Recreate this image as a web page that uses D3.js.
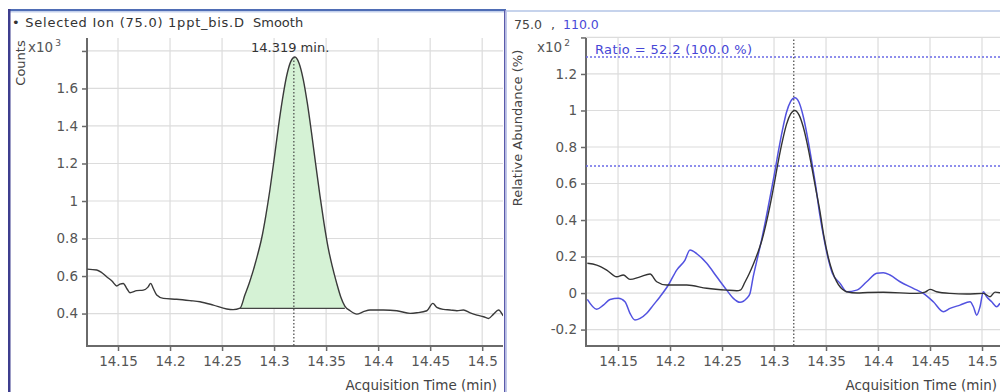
<!DOCTYPE html>
<html><head><meta charset="utf-8">
<script src="https://cdn.jsdelivr.net/npm/d3@7"></script>
<style>body{margin:0;background:#fff;} svg{display:block;} text{font-family:"DejaVu Sans",sans-serif;}</style>
</head><body><svg id="c" width="1000" height="392"></svg>
<script>
const xTicks = [14.15,14.2,14.25,14.3,14.35,14.4,14.45,14.5];
const xTickLabels = ["14.15","14.2","14.25","14.3","14.35","14.4","14.45","14.5"];
const leftYTicks = [0.4,0.6,0.8,1,1.2,1.4,1.6,1.8];
const leftYTickLabels = ["0.4","0.6","0.8","1","1.2","1.4","1.6",""];
const rightYTicks = [-0.2,0,0.2,0.4,0.6,0.8,1,1.2,1.4];
const rightYTickLabels = ["-0.2","0","0.2","0.4","0.6","0.8","1","1.2",""];

const leftTime = [14.1205,14.1295,14.1337,14.1391,14.1442,14.1488,14.1519,14.1551,14.1587,14.1615,14.1680,14.1743,14.1788,14.1814,14.1837,14.1872,14.1936,14.2064,14.2192,14.2288,14.2416,14.2545,14.2606,14.2673,14.272,14.276,14.280,14.284,14.288,14.292,14.296,14.300,14.304,14.308,14.312,14.316,14.320,14.324,14.328,14.332,14.336,14.340,14.344,14.348,14.352,14.356,14.360,14.364,14.368,14.3731,14.3795,14.3859,14.3923,14.4051,14.4180,14.4308,14.4372,14.4468,14.4526,14.4564,14.4628,14.4692,14.4757,14.4820,14.4885,14.4949,14.5013,14.5061,14.5109,14.5157,14.5202];
const leftCounts = [0.637,0.632,0.621,0.596,0.573,0.547,0.557,0.560,0.531,0.511,0.522,0.525,0.541,0.561,0.536,0.499,0.481,0.476,0.469,0.463,0.445,0.424,0.421,0.429,0.50,0.56,0.63,0.71,0.80,0.92,1.06,1.22,1.389,1.540,1.665,1.743,1.768,1.735,1.649,1.520,1.363,1.195,1.031,0.881,0.75,0.65,0.565,0.49,0.44,0.415,0.397,0.410,0.419,0.419,0.415,0.401,0.404,0.415,0.454,0.433,0.422,0.419,0.415,0.419,0.404,0.392,0.383,0.374,0.397,0.419,0.387];

const blackTime = [14.1205,14.1295,14.1391,14.1488,14.1551,14.1615,14.1712,14.1808,14.1872,14.1968,14.2161,14.2353,14.2545,14.2641,14.268,14.272,14.276,14.280,14.284,14.288,14.292,14.296,14.300,14.304,14.308,14.312,14.316,14.320,14.324,14.328,14.332,14.336,14.340,14.344,14.348,14.352,14.356,14.360,14.364,14.368,14.3699,14.380,14.390,14.4051,14.4372,14.4452,14.4500,14.4564,14.4692,14.4853,14.5013,14.5077,14.5125,14.5173];
const blackAbund = [0.163,0.153,0.126,0.089,0.099,0.075,0.089,0.104,0.062,0.044,0.044,0.026,0.016,0.013,0.018,0.059,0.104,0.156,0.215,0.282,0.371,0.475,0.593,0.719,0.831,0.924,0.981,1.000,0.976,0.912,0.816,0.700,0.575,0.453,0.31,0.20,0.12,0.065,0.03,0.012,0.007,0.0,0.003,0.004,-0.002,0.005,0.020,0.007,-0.002,-0.005,-0.002,-0.020,0.005,0.002];

const blueTime = [14.1205,14.1295,14.1359,14.1423,14.1503,14.1567,14.1615,14.1663,14.1712,14.1776,14.1839,14.1904,14.1984,14.2064,14.2144,14.2192,14.2260,14.2353,14.2449,14.2545,14.2609,14.2673,14.2738,14.2769,14.280,14.284,14.288,14.292,14.296,14.300,14.304,14.308,14.312,14.316,14.320,14.324,14.328,14.332,14.336,14.340,14.344,14.348,14.352,14.356,14.3635,14.3699,14.3795,14.3891,14.3988,14.4051,14.4115,14.4212,14.4339,14.4436,14.4532,14.4628,14.4692,14.4788,14.4885,14.4917,14.4949,14.4981,14.5013,14.5045,14.5093,14.5141,14.5173];
const blueAbund = [-0.035,-0.089,-0.066,-0.035,-0.029,-0.048,-0.111,-0.148,-0.139,-0.111,-0.066,-0.020,0.044,0.126,0.181,0.236,0.214,0.163,0.089,0.016,-0.029,-0.051,-0.029,-0.002,0.09,0.19,0.29,0.40,0.52,0.64,0.77,0.89,0.99,1.05,1.07,1.045,0.97,0.86,0.73,0.59,0.43,0.30,0.19,0.11,0.053,0.007,0.016,0.062,0.108,0.111,0.099,0.062,0.026,-0.002,-0.048,-0.102,-0.084,-0.066,-0.048,-0.075,-0.121,-0.075,0.007,-0.020,-0.048,-0.075,-0.056];

const peakRT = 14.319;
const peakStart = 14.2673, peakEnd = 14.368, peakBase = 0.428;
const ratioLow = 0.696, ratioHigh = 1.293;

const svg = d3.select("#c");
const FS = 13.5;

// frames
svg.append("rect").attr("x",8).attr("y",9).attr("width",498).attr("height",2).attr("fill","#4f6db5");
svg.append("rect").attr("x",8).attr("y",11).attr("width",498).attr("height",1.5).attr("fill","#c3d0ec");
svg.append("rect").attr("x",506).attr("y",10).attr("width",494).attr("height",2).attr("fill","#c6d3ec");
svg.append("rect").attr("x",8).attr("y",9).attr("width",2.5).attr("height",383).attr("fill","#3d3d8e");
svg.append("rect").attr("x",504).attr("y",10).attr("width",1.5).attr("height",382).attr("fill","#5a5aaa");
svg.append("rect").attr("x",505.5).attr("y",10).attr("width",1.5).attr("height",382).attr("fill","#c0c8ea");

function panel(opts){
  const x = d3.scaleLinear().domain(opts.xd).range([opts.x0, opts.x1]);
  const y = d3.scaleLinear().domain(opts.yd).range([346, 38]);
  const g = svg.append("g");
  const cid = "clip"+opts.id;
  svg.append("clipPath").attr("id",cid).append("rect").attr("x",opts.x0).attr("y",38).attr("width",opts.x1-opts.x0).attr("height",308);
  g.selectAll(".vg").data(xTicks).join("line").attr("x1",d=>x(d)).attr("x2",d=>x(d)).attr("y1",38).attr("y2",346).attr("stroke","#dcdcdc").attr("stroke-width",1.2);
  g.selectAll(".hg").data(opts.yt).join("line").attr("y1",d=>y(d)).attr("y2",d=>y(d)).attr("x1",opts.x0).attr("x2",opts.x1).attr("stroke","#dcdcdc").attr("stroke-width",1.2);
  const xa = d3.axisBottom(x).tickValues(xTicks).tickFormat((d,i)=>xTickLabels[i]).tickSize(5).tickPadding(5);
  const ya = d3.axisLeft(y).tickValues(opts.yt).tickFormat((d,i)=>opts.ytl[i]).tickSize(5).tickPadding(4);
  const gx = g.append("g").attr("transform","translate(0,346)").call(xa);
  const gy = g.append("g").attr("transform",`translate(${opts.x0},0)`).call(ya);
  [gx,gy].forEach(a=>{
    a.select(".domain").remove();
    a.selectAll("line").attr("stroke","#6a6a6a").attr("stroke-width",1.5);
    a.selectAll("text").attr("fill","#555").style("font-size",FS+"px").style("font-family","DejaVu Sans");
  });
  g.append("line").attr("x1",opts.x0).attr("x2",opts.x0).attr("y1",38).attr("y2",347).attr("stroke","#6a6a6a").attr("stroke-width",2);
  g.append("line").attr("x1",opts.x0-1).attr("x2",opts.x1).attr("y1",346).attr("y2",346).attr("stroke","#6a6a6a").attr("stroke-width",2);
  const t = g.append("text").attr("x",opts.mx).attr("y",52).attr("fill","#555").style("font-size",FS+"px");
  t.append("tspan").text("x10");
  t.append("tspan").attr("dy",-6).attr("dx",2).style("font-size","9px").text(opts.exp);
  return {x,y,g,clip:`url(#${cid})`};
}

// Left panel
const L = panel({id:"L", xd:[14.1202,14.52], x0:87, x1:503, yd:[0.227,1.869], yt:leftYTicks, ytl:leftYTickLabels, exp:"3", mx:28});
const leftData = leftTime.map((t,i)=>({t, v:leftCounts[i]}));
const fillData = leftData.filter(d=>d.t>=peakStart && d.t<=peakEnd);
const gl = L.g.append("g").attr("clip-path",L.clip);
gl.append("path").datum(fillData)
  .attr("d", d3.area().x(d=>L.x(d.t)).y0(L.y(peakBase)).y1(d=>L.y(d.v)).curve(d3.curveMonotoneX))
  .attr("fill","#d5f2d5").attr("stroke","none");
gl.append("line").attr("x1",L.x(peakStart)).attr("x2",L.x(peakEnd)).attr("y1",L.y(peakBase)).attr("y2",L.y(peakBase)).attr("stroke","#444").attr("stroke-width",1.3);
gl.append("path").datum(leftData)
  .attr("d", d3.line().x(d=>L.x(d.t)).y(d=>L.y(d.v)).curve(d3.curveMonotoneX))
  .attr("fill","none").attr("stroke","#3a3a3a").attr("stroke-width",1.4);
gl.append("line").attr("x1",L.x(peakRT)).attr("x2",L.x(peakRT)).attr("y1",L.y(1.768)).attr("y2",346).attr("stroke","#444").attr("stroke-width",1.2).attr("stroke-dasharray","1.5,2");

svg.append("text").attr("x",12).attr("y",27).attr("fill","#333").style("font-size","13px").attr("textLength",232).attr("lengthAdjust","spacing").text("• Selected Ion (75.0) 1ppt_bis.D");
svg.append("text").attr("x",253).attr("y",27).attr("fill","#333").style("font-size","13px").text("Smooth");
svg.append("text").attr("x",251).attr("y",52).attr("fill","#333").style("font-size","13px").text("14.319 min.");
svg.append("text").attr("transform","translate(25,63) rotate(-90)").attr("text-anchor","middle").attr("fill","#444").style("font-size","13px").text("Counts");
svg.append("text").attr("x",497).attr("y",390).attr("text-anchor","end").attr("fill","#444").style("font-size",FS+"px").text("Acquisition Time (min)");

// Right panel
const R = panel({id:"R", xd:[14.1192,14.5173], x0:586, x1:1000, yd:[-0.29,1.397], yt:rightYTicks, ytl:rightYTickLabels, exp:"2", mx:537});
const gr = R.g.append("g").attr("clip-path",R.clip);
gr.append("line").attr("x1",586).attr("x2",1000).attr("y1",R.y(ratioLow)).attr("y2",R.y(ratioLow)).attr("stroke","#6a6ae6").attr("stroke-width",1.5).attr("stroke-dasharray","2,2");
gr.append("line").attr("x1",586).attr("x2",1000).attr("y1",R.y(ratioHigh)).attr("y2",R.y(ratioHigh)).attr("stroke","#6a6ae6").attr("stroke-width",1.5).attr("stroke-dasharray","2,2");
gr.append("line").attr("x1",R.x(peakRT)).attr("x2",R.x(peakRT)).attr("y1",36).attr("y2",346).attr("stroke","#444").attr("stroke-width",1.2).attr("stroke-dasharray","1.5,2");
gr.append("path").datum(blueTime.map((t,i)=>({t,v:blueAbund[i]})))
  .attr("d", d3.line().x(d=>R.x(d.t)).y(d=>R.y(d.v)).curve(d3.curveMonotoneX))
  .attr("fill","none").attr("stroke","#5252e0").attr("stroke-width",1.5);
gr.append("path").datum(blackTime.map((t,i)=>({t,v:blackAbund[i]})))
  .attr("d", d3.line().x(d=>R.x(d.t)).y(d=>R.y(d.v)).curve(d3.curveMonotoneX))
  .attr("fill","none").attr("stroke","#333").attr("stroke-width",1.4);

svg.append("text").attr("x",514).attr("y",29).attr("fill","#444").style("font-size","12.5px").text("75.0");
svg.append("text").attr("x",551).attr("y",29).attr("fill","#444").style("font-size","12.5px").text(",");
svg.append("text").attr("x",563).attr("y",29).attr("fill","#4848d8").style("font-size","12.5px").text("110.0");
svg.append("text").attr("x",595).attr("y",54).attr("fill","#4646d6").style("font-size","13px").attr("textLength",157).attr("lengthAdjust","spacing").text("Ratio = 52.2 (100.0 %)");
svg.append("text").attr("transform","translate(522,128) rotate(-90)").attr("text-anchor","middle").attr("fill","#444").style("font-size","13px").text("Relative Abundance (%)");
svg.append("text").attr("x",997).attr("y",390).attr("text-anchor","end").attr("fill","#444").style("font-size",FS+"px").text("Acquisition Time (min)");
</script></body></html>
